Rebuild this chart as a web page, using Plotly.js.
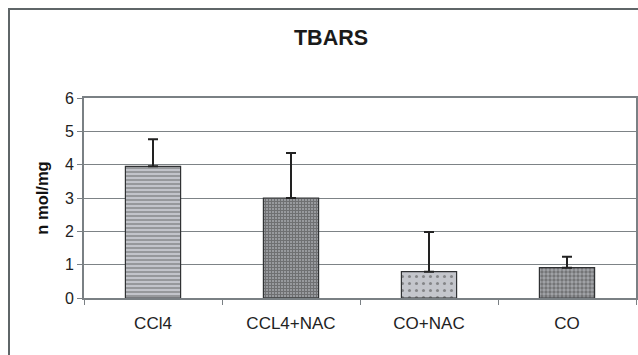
<!DOCTYPE html>
<html>
<head>
<meta charset="utf-8">
<script src="https://cdn.plot.ly/plotly-3.0.1.min.js"></script>
<style>
html,body{margin:0;padding:0;background:#fff;}
#wrap{position:relative;width:638px;height:355px;}
#chart{position:absolute;left:0;top:0;width:638px;height:355px;}
#frame{position:absolute;left:8px;top:8px;width:640px;height:360px;border-left:2px solid #5f6668;border-top:2px solid #5f6668;pointer-events:none;}
</style>
</head>
<body>
<div id="wrap"><div id="chart"></div><div id="frame"></div></div>
<script>
var categories = ["CCl4", "CCL4+NAC", "CO+NAC", "CO"];
var values = [3.95, 3.0, 0.79, 0.91];
var errorsPlus = [0.81, 1.35, 1.19, 0.33];
var yTicks = [0, 1, 2, 3, 4, 5, 6];

var trace = {
  type: "bar",
  x: categories,
  y: values,
  width: 0.4,
  error_y: {
    type: "data",
    symmetric: false,
    array: errorsPlus,
    arrayminus: values.map(function(){return 0;}),
    color: "#222222",
    thickness: 2,
    width: 5
  },
  marker: {
    color: ["#c2c4ca", "#9a9ca0", "#c4c6cc", "#a4a6aa"],
    line: {color: "#303234", width: 1.2},
    pattern: {
      shape: ["-", "+", ".", "."],
      fgcolor: ["#4a4c50", "#2a2c30", "#505256", "#2e3034"],
      size: [4, 3, 7, 4],
      solidity: [0.35, 0.6, 0.15, 0.55],
      fillmode: "overlay"
    }
  },
  hoverinfo: "none"
};

var layout = {
  width: 638,
  height: 355,
  margin: {l: 84, r: 2, t: 98, b: 57},
  paper_bgcolor: "#ffffff",
  plot_bgcolor: "#ffffff",
  showlegend: false,
  font: {family: "Liberation Sans, Arial, sans-serif", color: "#222"},
  title: {
    text: "<b>TBARS</b>",
    font: {size: 21.5, color: "#1a1a1a"},
    x: 331/638, xref: "container", xanchor: "center",
    y: 1 - 37/355, yref: "container", yanchor: "middle"
  },
  xaxis: {
    type: "category",
    showline: true, linecolor: "#7a8084", linewidth: 2,
    mirror: true,
    ticks: "outside", ticklen: 5, tickcolor: "#7a8084", tickwidth: 1,
    tickson: "boundaries",
    showgrid: false,
    ticklabelstandoff: 9,
    tickfont: {size: 17, color: "#222"},
    fixedrange: true
  },
  yaxis: {
    range: [0, 6],
    tickvals: yTicks,
    showline: true, linecolor: "#7a8084", linewidth: 2,
    mirror: true,
    ticks: "outside", ticklen: 5, tickcolor: "#7a8084",
    showgrid: true, gridcolor: "#7d8386", gridwidth: 1,
    zeroline: false,
    tickfont: {size: 16, color: "#222"},
    title: {text: "<b>n mol/mg</b>", font: {size: 16.5, color: "#111"}, standoff: 12},
    fixedrange: true
  },
  bargap: 0.6
};

Plotly.newPlot("chart", [trace], layout, {staticPlot: true, displayModeBar: false});
</script>
</body>
</html>
